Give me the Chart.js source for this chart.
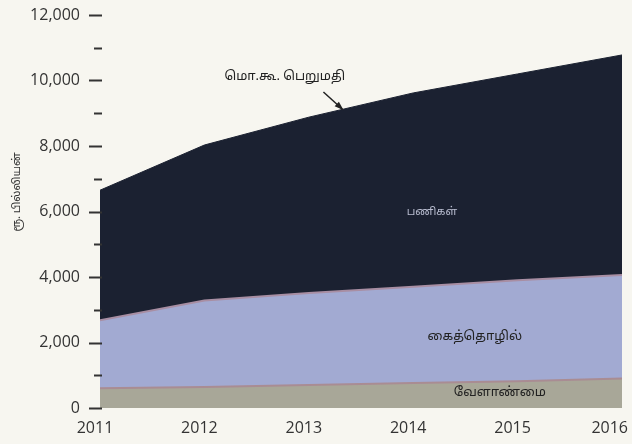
<!DOCTYPE html>
<html>
<head>
<meta charset="utf-8">
<script src="https://cdn.jsdelivr.net/npm/chart.js@4"></script>
<style>
  html, body { margin: 0; padding: 0; background: #f7f6f0; }
  #wrap { width: 632px; height: 444px; }
</style>
</head>
<body>
<div id="wrap"><canvas id="gdp-chart"></canvas></div>
<script>
// stacked area - GDP by sector (Rs. billion)
const years = [2011, 2012, 2013, 2014, 2015, 2016];
const agriculture = [600, 640, 700, 760, 820, 900];
const industry = [2080, 2640, 2810, 2940, 3080, 3160];
const services = [3970, 4750, 5370, 5920, 6300, 6720];
const yTicks = [0, 2000, 4000, 6000, 8000, 10000, 12000];

const FONT = "'Open Sans', 'Noto Sans', sans-serif";
const TAMIL = "'Noto Sans Tamil', 'Lohit Tamil', 'Noto Sans', sans-serif";

const toPoints = arr => arr.map((v, i) => ({ x: years[i], y: v }));

const decorations = {
  id: "decorations",
  beforeDraw(chart) {
    const c = chart.ctx;
    c.save();
    c.fillStyle = "#f7f6f0";
    c.fillRect(0, 0, chart.width, chart.height);
    c.restore();
  },
  afterDraw(chart) {
    const c = chart.ctx;
    const xs = chart.scales.x;
    const ys = chart.scales.y;
    const left = chart.chartArea.left;
    c.save();

    // y ticks: long at labelled values, short in between
    c.strokeStyle = "#333";
    c.lineWidth = 2;
    for (let v = 0; v <= 12000; v += 1000) {
      const py = Math.round(ys.getPixelForValue(v)) + 0.5;
      const major = yTicks.includes(v);
      c.beginPath();
      c.moveTo(left - (major ? 11 : 6), py);
      c.lineTo(left + 2, py);
      c.stroke();
    }

    // year labels
    c.fillStyle = "#333";
    c.font = "16px " + FONT;
    c.textAlign = "center";
    c.textBaseline = "middle";
    years.forEach(yr => {
      let px = xs.getPixelForValue(yr) - 5;
      const w = c.measureText(String(yr)).width;
      px = Math.min(px, chart.width - 4 - w / 2);
      c.fillText(String(yr), px, chart.chartArea.bottom + 20);
    });

    // axis title
    c.save();
    c.translate(18, 192);
    c.rotate(-Math.PI / 2);
    c.font = "11px " + TAMIL;
    c.fillStyle = "#333";
    c.fillText("ரூ. பில்லியன்", 0, 0);
    c.restore();

    // labels inside the areas
    const label = (text, xv, yv, color, size) => {
      c.font = size + "px " + TAMIL;
      c.fillStyle = color;
      c.fillText(text, xs.getPixelForValue(xv), ys.getPixelForValue(yv));
    };
    label("மொ.கூ. பெறுமதி", 2012.77, 10100, "#222", 13);
    label("பணிகள்", 2014.18, 5950, "#b9bdd0", 11);
    label("கைத்தொழில்", 2014.59, 2170, "#222", 13);
    label("வேளாண்மை", 2014.83, 460, "#222", 13);

    // arrow to the GDP line
    const ax = xs.getPixelForValue(2013.14), ay = ys.getPixelForValue(9650);
    const bx = xs.getPixelForValue(2013.32), by = ys.getPixelForValue(9130);
    c.strokeStyle = "#222";
    c.fillStyle = "#222";
    c.lineWidth = 1.5;
    c.beginPath();
    c.moveTo(ax, ay);
    c.lineTo(bx, by);
    c.stroke();
    const ang = Math.atan2(by - ay, bx - ax);
    c.beginPath();
    c.moveTo(bx + 2 * Math.cos(ang), by + 2 * Math.sin(ang));
    c.lineTo(bx - 8 * Math.cos(ang - 0.4), by - 8 * Math.sin(ang - 0.4));
    c.lineTo(bx - 8 * Math.cos(ang + 0.4), by - 8 * Math.sin(ang + 0.4));
    c.closePath();
    c.fill();

    c.restore();
  }
};

document.addEventListener("DOMContentLoaded", () => {
  const ctx = document.getElementById("gdp-chart");

  new Chart(ctx, {
    type: "line",
    data: {
      datasets: [
        {
          label: "வேளாண்மை",
          data: toPoints(agriculture),
          backgroundColor: "#a8a798",
          borderColor: "#a98c93",
          borderWidth: 2,
          fill: "origin"
        },
        {
          label: "கைத்தொழில்",
          data: toPoints(industry),
          backgroundColor: "#a2aad2",
          borderColor: "#a88ea3",
          borderWidth: 2,
          fill: "-1"
        },
        {
          label: "பணிகள்",
          data: toPoints(services),
          backgroundColor: "#1b2131",
          borderColor: "#1b2131",
          borderWidth: 1,
          fill: "-1"
        }
      ]
    },
    options: {
      responsive: true,
      maintainAspectRatio: false,
      animation: false,
      layout: { padding: { top: 15, right: 10, bottom: 36, left: 0 } },
      elements: { point: { radius: 0 }, line: { tension: 0 } },
      plugins: {
        legend: { display: false },
        tooltip: { enabled: false }
      },
      scales: {
        x: {
          type: "linear",
          display: false,
          min: years[0],
          max: years[years.length - 1]
        },
        y: {
          stacked: true,
          min: 0,
          max: 12000,
          border: { display: false },
          grid: { display: false, drawTicks: false },
          afterFit(scale) {
            scale.width = 100;
            scale.paddingTop = 0;
            scale.paddingBottom = 0;
          },
          afterBuildTicks(scale) { scale.ticks = yTicks.map(v => ({ value: v })); },
          ticks: {
            padding: 20,
            color: "#333",
            font: { size: 16, family: FONT },
            callback: v => v.toLocaleString("en-US")
          }
        }
      }
    },
    plugins: [decorations]
  });
});
</script>
</body>
</html>
